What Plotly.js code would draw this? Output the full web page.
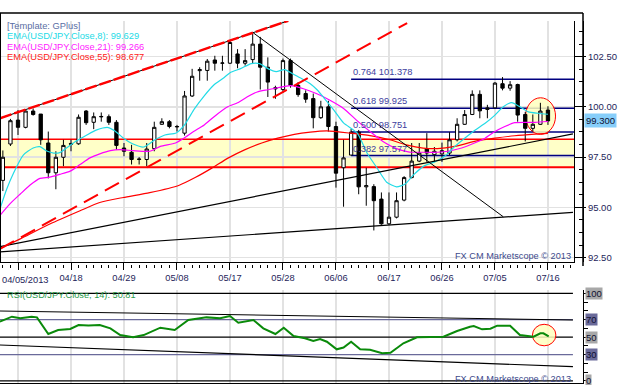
<!DOCTYPE html>
<html><head><meta charset="utf-8">
<script src="https://cdn.plot.ly/plotly-3.0.1.min.js"></script>
<style>html,body{margin:0;padding:0;background:#fff}#chart{width:625px;height:385px}</style>
</head><body><div id="chart"></div>
<script>
// ---------- DATA ----------
const open  = [96.34,98.15,99.34,98.98,99.79,99.64,98.2,96.72,97.49,98.18,98.16,99.79,99.23,99.5,99.51,99.23,97.95,97.74,97.38,97.38,97.92,99.13,99.26,99.0,98.69,100.54,101.8,101.81,102.33,102.17,102.17,102.63,102.17,102.35,103.12,101.97,100.95,100.86,102.3,101.07,100.66,100.41,99.46,100.0,99.02,96.97,97.6,98.74,96.02,96.03,95.41,94.18,94.51,95.36,96.48,97.3,97.92,97.62,97.66,97.7,98.36,99.13,99.62,100.62,99.87,99.95,101.15,100.93,101.11,99.62,98.93,99.13,99.84];
const high  = [97.83,99.4,99.84,99.84,99.92,99.64,98.77,97.79,98.36,98.36,99.62,99.84,99.72,99.72,99.62,99.34,98.2,98.11,97.5,98.2,99.26,99.43,99.34,99.1,100.79,101.89,101.97,102.38,102.54,102.54,103.28,102.87,102.87,103.66,103.48,102.46,101.05,102.4,102.4,101.23,100.82,100.66,100.3,100.3,99.26,98.36,98.9,98.85,96.97,96.15,95.74,95.74,95.74,96.55,98.2,98.2,98.69,98.0,98.22,98.74,99.43,99.84,100.82,100.82,100.1,101.23,101.48,101.28,101.15,99.75,99.62,100.2,100.03];
const low   = [95.81,98.05,98.6,98.93,99.56,98.11,96.44,95.9,97.05,97.79,98.11,99.1,98.89,99.26,99.1,97.87,97.54,97.13,97.13,97.05,97.79,99.1,98.93,98.77,98.57,100.49,101.3,101.3,101.8,101.8,102.13,101.92,102.05,102.17,100.86,100.49,100.4,100.7,100.95,100.5,100.2,98.93,99.4,98.77,95.98,95.03,97.6,95.65,95.08,93.85,94.13,94.13,94.45,95.3,96.44,97.25,97.26,97.26,97.26,97.6,98.28,99.1,99.59,99.43,99.43,99.92,100.82,100.8,99.26,98.28,98.77,99.1,99.1];
const close = [97.49,99.31,98.98,99.79,99.62,98.36,96.72,97.49,98.08,98.14,99.48,99.21,99.51,99.52,99.23,98.08,97.79,97.38,97.4,97.9,98.98,99.26,99.02,99.02,100.54,101.52,101.85,102.27,102.17,102.18,103.2,102.17,102.3,103.12,101.97,101.23,100.9,102.3,101.07,100.61,100.38,99.46,100.0,99.02,96.7,97.46,98.74,96.02,96.08,95.33,94.18,94.51,95.33,96.48,97.3,97.7,97.7,97.79,97.82,98.36,99.13,99.62,100.62,99.8,99.95,101.18,100.93,101.1,99.59,98.93,99.13,99.79,99.3];
const barIndex = close.map((_, k) => k);

const tickBars   = [2,9,16,23,30,37,44,51,58,65,72];
const tickLabels = ['04/05/2013','04/18','04/29','05/08','05/17','05/28','06/06','06/17','06/26','07/05','07/16'];

const ema8Bar = [-0.4,0.5,1.4,2.7,4.0,4.9,5.8,6.7,7.5,8.4,9.7,11.1,12.4,13.9,14.8,15.9,17.2,18.6,20.1,21.4,22.9,24.0,25.3,26.6,27.9,29.2,30.1,31.4,32.8,33.9,35.0,36.1,37.2,38.5,39.5,40.6,41.5,42.4,43.7,45.0,46.8,48.1,49.4,50.7,52.0,53.1,54.2,55.6,57.0,58.4,59.7,61.0,62.4,63.7,65.0,66.1,67.2,68.3,69.4,70.7,72.0];
const ema8Val = [94.9,95.9,96.7,97.6,97.95,98.02,97.8,97.7,97.72,97.95,98.3,98.6,98.85,98.97,98.8,98.45,98.15,98.0,98.36,98.6,98.7,99.1,99.9,100.55,101.1,101.45,101.72,101.9,102.15,102.15,101.9,101.75,101.85,101.6,101.4,101.15,100.85,100.45,99.85,99.2,98.7,97.7,96.97,96.25,96.02,96.15,96.6,97.05,97.25,97.55,98.03,98.44,98.85,99.18,99.59,100.0,100.21,100.0,99.75,99.68,99.63];

const ema21Bar = [-0.4,0.9,2.3,3.6,4.9,6.2,7.5,8.9,10.2,11.5,12.8,14.2,15.5,17.2,19.4,20.8,22.8,23.9,25.2,26.6,27.9,29.7,31.0,32.3,33.6,35.0,36.3,38.0,39.7,41.4,43.2,45.0,46.7,48.5,50.2,52.0,53.7,55.5,57.4,58.8,60.6,62.3,63.7,65.0,66.3,67.6,69.0,70.3,72.0];
const ema21Val = [94.59,95.16,95.66,96.11,96.44,96.5,96.64,96.8,97.13,97.46,97.66,97.82,97.87,97.82,97.79,98.03,98.2,98.44,98.77,99.1,99.51,100.0,100.2,100.5,100.74,100.85,100.95,101.05,100.9,100.66,100.33,99.92,99.34,98.77,98.28,97.92,97.75,97.74,97.74,97.79,97.95,98.2,98.44,98.77,99.02,99.21,99.23,99.23,99.27];

const ema55Bar = [-0.4,2.3,6.2,10.2,12.8,15.9,19.4,23.3,25.4,27.6,29.8,32.0,34.2,36.3,38.5,40.6,42.8,45.9,48.5,51.1,53.3,55.5,57.4,59.7,62.3,65.0,67.6,70.3,72.0];
const ema55Val = [92.94,93.43,94.17,94.83,95.24,95.49,95.73,96.1,96.48,96.95,97.46,97.87,98.2,98.44,98.63,98.74,98.8,98.69,98.57,98.36,98.11,97.95,97.92,98.03,98.28,98.44,98.56,98.64,98.68];

const rsiBar = [-0.4,1.2,2.3,3.8,4.5,6.0,7.3,8.9,10.0,11.3,12.8,14.2,15.5,17.2,18.6,20.8,22.7,24.5,26.9,28.7,30.0,31.1,33.1,34.4,36.0,37.1,38.4,39.9,41.0,41.9,42.8,44.1,45.0,46.0,47.2,48.5,50.1,51.2,52.9,54.7,58.2,60.0,61.7,62.2,63.3,64.4,65.3,67.0,68.3,70.1,71.0,71.4,72.1];
const rsiVal = [67.6,73.3,71.4,73.3,72.5,53.5,58.1,59.2,63.8,63.3,63.8,60.0,52.3,49.7,52.3,60.7,58.1,69.5,72.5,71.4,74.0,66.4,69.5,60.0,53.5,60.7,51.2,48.6,45.5,47.8,44.7,36.0,38.0,44.7,36.0,35.5,31.4,32.0,42.9,49.7,50.4,56.9,61.8,62.5,58.8,59.5,63.0,62.8,52.3,50.4,54.3,54.3,50.8];

const legendLines = ['[Template: GPlus]','EMA(USD/JPY.Close,8): 99.629','EMA(USD/JPY.Close,21): 99.266','EMA(USD/JPY.Close,55): 98.677'];
const rsiLabel = 'RSI(USD/JPY.Close, 14): 50.81';
const creditText = 'FX CM Marketscope © 2013';

const fibRatios = ['0.764','0.618','0.500','0.382'];
const fibPrices = [101.378, 99.925, 98.751, 97.577];
const fibStartBar = 46.0;
const bandLow = 97.0, bandHigh = 98.39;

// trend lines: [bar, price] endpoints
const upperChannel = [[-0.38, 99.43],[37.7, 104.28]];
const redRay       = [[-0.38, 92.93],[53.4, 104.17]];
const supportA     = [[-0.38, 93.04],[75.3, 98.65]];
const supportB     = [[-0.38, 92.78],[75.3, 94.75]];
const downLine     = [[33.08, 103.68],[66.1, 94.53]];
const rsiUpper     = [[-0.38, 79.8],[75.3, 69.5]];
const rsiLower     = [[-0.38, 40.9],[75.3, 16.1]];
const rsiLevels    = [100, 70, 50, 30, 0];
const priceCircle  = [[69.05, 98.63],[73.0, 100.45]];
const rsiCircle    = [[69.95, 40.0],[73.05, 64.6]];
const priceTicks   = [92.5, 95, 97.5, 100, 102.5];

// ---------- LAYOUT HELPERS ----------
const W = 583, TOP = 21, BOT = 384, H = BOT - TOP;
const pxX = p => p / W;
const pxY = p => (BOT - p) / H;
const mainX = [-0.378, 75.44], rsiX = [-0.378, 76.63];
const mainY = [92.28, 104.27], rsiY = [-3.66, 103.8];
const FONT = 'Liberation Sans, Arial, sans-serif';

const traces = [
  {type:'candlestick', x:barIndex, open:open, high:high, low:low, close:close, xaxis:'x', yaxis:'y',
   increasing:{line:{color:'#000', width:1}, fillcolor:'#ffffff'},
   decreasing:{line:{color:'#000', width:1}, fillcolor:'#000000'},
   whiskerwidth:0, hoverinfo:'skip'},
  {type:'scatter', mode:'lines', x:ema55Bar, y:ema55Val, xaxis:'x', yaxis:'y', line:{color:'#ff0000', width:1.2, shape:'spline', smoothing:0.6}, hoverinfo:'skip'},
  {type:'scatter', mode:'lines', x:ema21Bar, y:ema21Val, xaxis:'x', yaxis:'y', line:{color:'#ff00ff', width:1.2, shape:'spline', smoothing:0.6}, hoverinfo:'skip'},
  {type:'scatter', mode:'lines', x:ema8Bar, y:ema8Val, xaxis:'x', yaxis:'y', line:{color:'#22dbe6', width:1.2, shape:'spline', smoothing:0.6}, hoverinfo:'skip'},
  {type:'scatter', mode:'lines', x:rsiBar, y:rsiVal, xaxis:'x2', yaxis:'y2', line:{color:'#0a8a0a', width:2}, hoverinfo:'skip'},
  {type:'scatter', mode:'markers', x:[0], y:[95], xaxis:'x3', yaxis:'y', marker:{opacity:0}, hoverinfo:'skip'},
  {type:'scatter', mode:'markers', x:[0], y:[95], xaxis:'x', yaxis:'y3', marker:{opacity:0}, hoverinfo:'skip'}
];

const seg = (pts, xr, yr, color, width, dash, layer) => ({type:'line', xref:xr, yref:yr,
  x0:pts[0][0], y0:pts[0][1], x1:pts[1][0], y1:pts[1][1],
  line:{color:color, width:width, dash:dash||'solid'}, layer:layer||'above'});

const shapes = [];
shapes.push({type:'rect', xref:'x', yref:'y', x0:mainX[0], x1:mainX[1], y0:bandLow, y1:bandHigh, fillcolor:'#ffffc8', line:{width:0}, layer:'below'});
shapes.push(seg([[mainX[0], bandHigh],[mainX[1], bandHigh]], 'x','y','#ff0000',1.5,'solid','between'));
shapes.push(seg([[mainX[0], bandLow],[mainX[1], bandLow]], 'x','y','#ff0000',2,'solid','between'));
fibPrices.forEach(p => shapes.push(seg([[fibStartBar, p],[mainX[1], p]], 'x','y','#000080',1.5,'solid','between')));
shapes.push({type:'circle', xref:'x', yref:'y', x0:priceCircle[0][0], x1:priceCircle[1][0], y0:priceCircle[0][1], y1:priceCircle[1][1], fillcolor:'rgba(255,255,190,0.85)', line:{color:'#ff0000', width:1}, layer:'between'});
shapes.push(seg(supportA,'x','y','#000',1.2));
shapes.push(seg(supportB,'x','y','#000',1.2));
shapes.push(seg(downLine,'x','y','#000',1));
shapes.push(seg(upperChannel,'x','y','#000',1));
shapes.push(seg(upperChannel,'x','y','#ff0000',2.4,'12px,3px'));
shapes.push(seg(redRay,'x','y','#ff0000',2,'16px,8px'));
// RSI panel
rsiLevels.forEach(l => {
  const c = (l === 70 || l === 30) ? '#6a6a9a' : '#000';
  shapes.push(seg([[rsiX[0], l],[75.3, l]], 'x2','y2', c, 1.2, 'solid','between'));
});
shapes.push(seg(rsiUpper,'x2','y2','#000',1.2));
shapes.push(seg(rsiLower,'x2','y2','#000',1.2));
shapes.push({type:'circle', xref:'x2', yref:'y2', x0:rsiCircle[0][0], x1:rsiCircle[1][0], y0:rsiCircle[0][1], y1:rsiCircle[1][1], fillcolor:'rgba(255,255,190,0.85)', line:{color:'#ff0000', width:1}, layer:'between'});
// frame
shapes.push({type:'line', xref:'paper', yref:'paper', x0:0, x1:1, y0:pxY(13), y1:pxY(13), line:{color:'#000', width:1.5}});
shapes.push({type:'line', xref:'paper', yref:'paper', x0:pxX(0.5), x1:pxX(0.5), y0:pxY(13), y1:pxY(262), line:{color:'#000', width:1}});
shapes.push({type:'line', xref:'paper', yref:'paper', x0:1, x1:1, y0:pxY(13), y1:pxY(266), line:{color:'#000', width:1.5}});
shapes.push({type:'line', xref:'paper', yref:'paper', x0:0, x1:1, y0:pxY(383.5), y1:pxY(383.5), line:{color:'#000', width:1}});

const annotations = [];
const legendColors = ['#5a6ea4','#22dbe6','#ff22ff','#ff2020'];
const legendY = [26, 36.3, 46.5, 56.8];
legendLines.forEach((t, k) => annotations.push({xref:'paper', yref:'paper', x:pxX(5), y:pxY(legendY[k]), xanchor:'left', yanchor:'middle', text:t, showarrow:false, font:{size:9.3, color:legendColors[k], family:FONT}}));
fibPrices.forEach((p, k) => annotations.push({xref:'x', yref:'y', x:fibStartBar, y:p, xanchor:'left', yanchor:'bottom', yshift:0, text:fibRatios[k]+' '+p.toFixed(3), showarrow:false, font:{size:9.3, color:'#3d3d9e', family:FONT}}));
annotations.push({xref:'paper', yref:'paper', x:pxX(573), y:pxY(256), xanchor:'right', yanchor:'middle', text:creditText, showarrow:false, font:{size:9.2, color:'#404a8c', family:FONT}});
annotations.push({xref:'paper', yref:'paper', x:pxX(573), y:pxY(379), xanchor:'right', yanchor:'middle', text:creditText, showarrow:false, font:{size:9.2, color:'#404a8c', family:FONT}});
annotations.push({xref:'paper', yref:'paper', x:pxX(5), y:pxY(295), xanchor:'left', yanchor:'middle', text:rsiLabel, showarrow:false, font:{size:9.2, color:'#2a9a4a', family:FONT}});
// first date label sits flush at the left edge (a centred tick label would be cut off)
annotations.push({xref:'paper', yref:'paper', x:0, y:pxY(279.5), xanchor:'left', yanchor:'middle', text:tickLabels[0], showarrow:false, font:{size:9.3, color:'#1e1e5a', family:FONT}});
annotations.push({xref:'paper', yref:'y', x:pxX(584), y:close[close.length-1], xanchor:'left', yanchor:'middle', text:close[close.length-1].toFixed(3), showarrow:false, bgcolor:'#87cefa', borderpad:1, font:{size:9.5, color:'#101030', family:FONT}});
rsiLevels.forEach(l => {
  const dark = (l === 70 || l === 30);
  annotations.push({xref:'paper', yref:'y2', x:pxX(585), y:l, xanchor:'left', yanchor:'middle', text:String(l), showarrow:false, bgcolor: dark ? '#6a6a9a' : '#a8a8a8', borderpad:0, font:{size:9.5, color:'#101030', family:FONT}});
});

const axisTickText = tickLabels.map((t, k) => k === 0 ? '' : t);

const layout = {
  width:625, height:385, margin:{l:0, r:42, t:TOP, b:1}, paper_bgcolor:'#fff', plot_bgcolor:'#fff',
  showlegend:false, font:{family:FONT, size:9.3, color:'#1e1e5a'}, boxgap:0.38,
  xaxis:{domain:[0, 574/W], range:mainX, anchor:'y', tickmode:'array', tickvals:tickBars, ticktext:axisTickText,
         ticks:'outside', ticklen:7, tickcolor:'#000', showline:true, linecolor:'#000', linewidth:1,
         showgrid:true, gridcolor:'#e2e2e2', gridwidth:1.5, zeroline:false, rangeslider:{visible:false},
         tickfont:{size:9.3, color:'#1e1e5a'}, fixedrange:true},
  xaxis3:{overlaying:'x', anchor:'free', position:pxY(268), side:'bottom', range:mainX, tickmode:'linear', tick0:0, dtick:1,
          ticks:'inside', ticklen:3, tickcolor:'#000', showticklabels:false, showgrid:false, showline:false, zeroline:false},
  yaxis:{domain:[pxY(262), 1], range:mainY, anchor:'x', side:'right', tickmode:'array', tickvals:priceTicks, tickformat:'.2f',
         ticks:'outside', ticklen:11, tickcolor:'#000', showline:true, linecolor:'#000', linewidth:1,
         showgrid:true, gridcolor:'#e2e2e2', gridwidth:1.5, zeroline:false, tickfont:{size:9.5, color:'#1e1e5a'}},
  yaxis3:{overlaying:'y', anchor:'free', position:1, side:'right', range:mainY, tickmode:'linear', tick0:92.5, dtick:0.625,
          ticks:'inside', ticklen:4, tickcolor:'#000', showticklabels:false, showgrid:false, showline:true, linecolor:'#000', zeroline:false},
  xaxis2:{domain:[0,1], range:rsiX, anchor:'y2', tickmode:'array', tickvals:tickBars, showticklabels:false, ticks:'',
          showgrid:true, gridcolor:'#e2e2e2', gridwidth:1.5, zeroline:false, showline:false},
  yaxis2:{domain:[0, pxY(290)], range:rsiY, anchor:'x2', side:'right', tickmode:'linear', tick0:0, dtick:10,
          ticks:'outside', ticklen:4, tickcolor:'#000', showticklabels:false, showline:true, linecolor:'#000', showgrid:false, zeroline:false},
  shapes:shapes, annotations:annotations
};

Plotly.newPlot('chart', traces, layout, {staticPlot:true, displayModeBar:false});
</script></body></html>
